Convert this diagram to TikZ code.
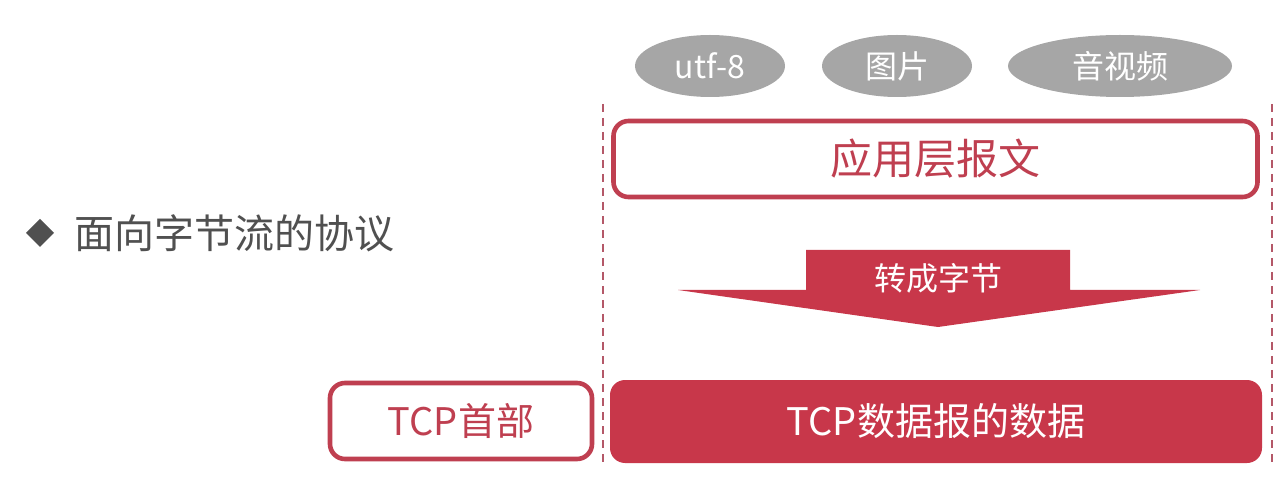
\documentclass[tikz,border=0pt]{standalone}
\usepackage{fontspec}
\setmainfont{Noto Sans CJK SC}
\usetikzlibrary{shapes.geometric}
\definecolor{tred}{HTML}{C8374A}
\definecolor{bred}{HTML}{BF3F50}
\definecolor{egray}{HTML}{A6A6A6}
\definecolor{tgray}{HTML}{505050}
\definecolor{dred}{HTML}{B45868}
\tikzset{
  tag/.style={ellipse, fill=egray, text=white, inner sep=0pt, font=\fontsize{16pt}{18pt}\selectfont},
  outbox/.style={draw=bred, line width=2.3pt, rounded corners=7.5pt, fill=white, text=bred, inner sep=0pt},
  fillbox/.style={fill=tred, rounded corners=7.5pt, text=white, inner sep=0pt},
  divline/.style={draw=dred, line width=1.3pt, dash pattern=on 4pt off 3pt},
}
\begin{document}
\begin{tikzpicture}[x=0.5pt,y=-0.5pt]
\useasboundingbox (0,0) rectangle (1280,497);
% ellipses
\node[tag, minimum width=75pt, minimum height=31pt] (utf) at (710,66) {utf-8};
\node[tag, minimum width=75pt, minimum height=31pt] (pic) at (897,66) {图片};
\node[tag, minimum width=112pt, minimum height=31pt] (av) at (1120,66) {音视频};
% dashed dividers
\coordinate (dlt) at (603,104);
\coordinate (dlb) at (603,462);
\coordinate (drt) at (1272,104);
\coordinate (drb) at (1272,462);
\draw[divline] (dlt) -- (dlb);
\draw[divline] (drt) -- (drb);
% app message box
\node[outbox, minimum width=322pt, minimum height=38pt, font=\fontsize{21pt}{24pt}\selectfont] (app) at (935.5,159) {应用层报文};
% arrow
\fill[tred] (806,250) -- (1070,250) -- (1070,290) -- (1200,290) -- (938,327) -- (678,290) -- (806,290) -- cycle;
\node[text=white, font=\fontsize{16pt}{18pt}\selectfont] (conv) at (938,278) {转成字节};
% bottom boxes
\node[fillbox, minimum width=326pt, minimum height=41.5pt, font=\fontsize{19pt}{22pt}\selectfont] (data) at (936,421.5) {TCP数据报的数据};
\node[outbox, minimum width=131pt, minimum height=38pt, font=\fontsize{19pt}{22pt}\selectfont] (hdr) at (461,421) {TCP首部};
% bullet title
\fill[tgray] (40,219) -- (54,233) -- (40,247) -- (26,233) -- cycle;
\node[anchor=west, text=tgray, inner sep=0pt, font=\fontsize{20pt}{22pt}\selectfont] (title) at (74,233) {面向字节流的协议};
\end{tikzpicture}
\end{document}
